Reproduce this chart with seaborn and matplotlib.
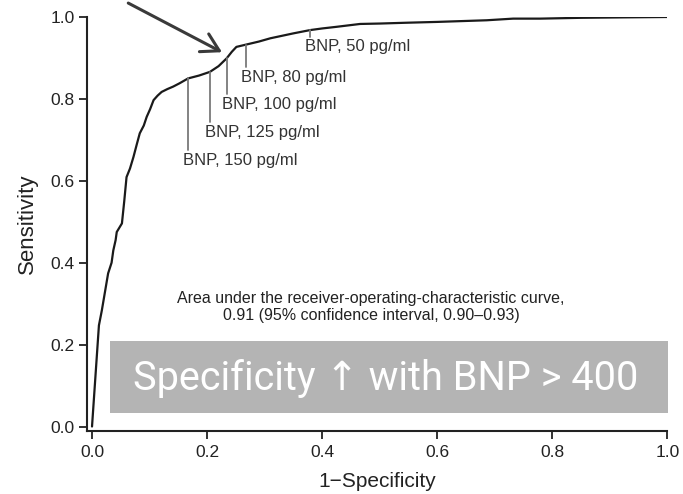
import numpy as np
import matplotlib
matplotlib.use("Agg")
import matplotlib.pyplot as plt
import seaborn as sns
from matplotlib.patches import Rectangle

# ROC curve
fpr = [0.0, 0.012, 0.017, 0.028, 0.034, 0.037, 0.041, 0.043, 0.052, 0.056,
       0.060, 0.066, 0.072, 0.078, 0.083, 0.090, 0.095, 0.101, 0.107, 0.114,
       0.121, 0.131, 0.141, 0.152, 0.162, 0.167, 0.186, 0.205, 0.220, 0.234,
       0.243, 0.251, 0.269, 0.290, 0.310, 0.330, 0.350, 0.379, 0.400, 0.425,
       0.466, 0.500, 0.547, 0.600, 0.686, 0.732, 0.779, 0.85, 0.92, 1.0]
tpr = [0.0, 0.247, 0.283, 0.374, 0.40, 0.43, 0.455, 0.475, 0.496, 0.55,
       0.609, 0.63, 0.658, 0.69, 0.716, 0.735, 0.756, 0.775, 0.797, 0.808,
       0.817, 0.824, 0.83, 0.838, 0.846, 0.85, 0.857, 0.866, 0.88, 0.899,
       0.915, 0.927, 0.933, 0.94, 0.948, 0.954, 0.96, 0.968, 0.972, 0.976,
       0.983, 0.984, 0.986, 0.988, 0.992, 0.996, 0.996, 0.998, 0.999, 1.0]

# cut-off annotations
bnp_labels = ["BNP, 50 pg/ml", "BNP, 80 pg/ml", "BNP, 100 pg/ml",
              "BNP, 125 pg/ml", "BNP, 150 pg/ml"]
bnp_fpr = [0.379, 0.268, 0.235, 0.205, 0.167]
bnp_label_y = [0.927, 0.853, 0.787, 0.719, 0.650]

ticks = [0.0, 0.2, 0.4, 0.6, 0.8, 1.0]
tick_labels = ["0.0", "0.2", "0.4", "0.6", "0.8", "1.0"]

sns.set_style("ticks")
plt.rcParams["font.family"] = ["Liberation Sans", "DejaVu Sans"]

fig = plt.figure(figsize=(6.83, 4.94), dpi=100)
ax = fig.add_axes([0.1274, 0.1275, 0.977 - 0.1274, 0.9656 - 0.1275])

sns.lineplot(x=fpr, y=tpr, sort=False, estimator=None, color="#1a1a1a",
             linewidth=1.6, ax=ax)

for lab, fx, ly in zip(bnp_labels, bnp_fpr, bnp_label_y):
    top = np.interp(fx, fpr, tpr)
    ax.plot([fx, fx], [top, ly + 0.024], color="#7a7a7a", lw=1.3)
    ax.text(fx - 0.009, ly, lab, ha="left", va="center", fontsize=12,
            color="#333333")

ax.text(0.485, 0.291, "Area under the receiver-operating-characteristic curve,\n"
        "0.91 (95% confidence interval, 0.90\u20130.93)", ha="center",
        va="center", fontsize=11.5, color="#222222", linespacing=1.15)

ax.annotate("", xy=(0.226, 0.914), xytext=(0.063, 1.034),
            arrowprops=dict(arrowstyle="->,head_length=0.62,head_width=0.36",
                            color="#3a3a3a", lw=2.2, mutation_scale=20,
                            shrinkA=0, shrinkB=0),
            annotation_clip=False)

ax.add_patch(Rectangle((0.031, 0.032), 0.971, 0.176, facecolor="#b4b4b4",
                       edgecolor="none", clip_on=False, zorder=3))
ax.text(0.51, 0.088, "Specificity \u2191 with BNP > 400", ha="center",
        va="baseline", fontsize=28.5, color="white", zorder=4,
        family=["Roboto", "DejaVu Sans"])

ax.set_xlim(-0.0087, 1.0)
ax.set_ylim(-0.011, 1.0)
ax.set_xticks(ticks)
ax.set_xticklabels(tick_labels)
ax.set_yticks(ticks)
ax.set_yticklabels(tick_labels)
ax.tick_params(axis="both", length=5.5, width=1.3, labelsize=12.5,
               color="#222222", labelcolor="#222222")
ax.tick_params(axis="x", pad=4.5)
ax.tick_params(axis="y", pad=3.5)
for s in ["left", "bottom"]:
    ax.spines[s].set_linewidth(1.5)
    ax.spines[s].set_color("#222222")
sns.despine(ax=ax)

ax.set_xlabel("1\u2212Specificity", fontsize=15, labelpad=9, color="#222222")
ax.set_ylabel("Sensitivity", fontsize=16, labelpad=9, color="#222222")

fig.savefig("out.png", dpi=100)
